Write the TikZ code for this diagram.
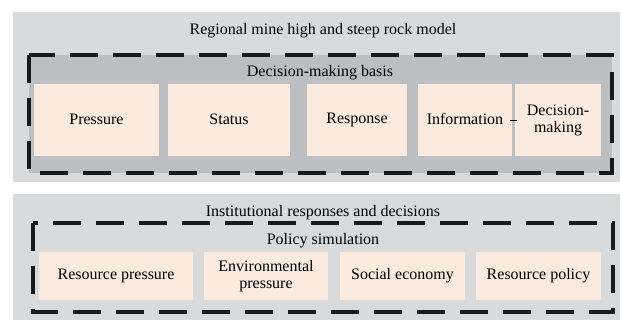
\documentclass[tikz,border=0pt]{standalone}
\usepackage{fontspec}
\setmainfont{Liberation Serif}
\definecolor{panelgray}{HTML}{D9DADC}
\definecolor{basisgray}{HTML}{BDBEC1}
\definecolor{factortan}{HTML}{FBEBDF}
\newcommand\fstrut{\rule[-2pt]{0pt}{12.5pt}}
\begin{document}
\begin{tikzpicture}[x=1pt,y=-1pt,
    every node/.style={font=\fontsize{16}{17}\selectfont},
    frame/.style={draw=black!90,line width=3.2pt,dash pattern=on 28pt off 15pt},
    factor/.style={fill=factortan,inner sep=0pt,align=center},
    heading/.style={inner sep=0pt}]
  \useasboundingbox (0,0) rectangle (622,320);
  % upper panel
  \fill[panelgray] (13,12) rectangle (620,182);
  \node[heading] (model) at (323,31) {\fstrut Regional mine high and steep rock model};
  \fill[basisgray] (29,55) rectangle (612,173);
  \draw[frame] (29,55) rectangle (612,173);
  \node[heading] (basis) at (320,73) {\fstrut Decision-making basis};
  \foreach \cx/\w/\name/\txt in {96.5/125/pres/Pressure, 229/122/stat/Status,
      357/100/resp/Response, 465/94/info/Information,
      558/86/dec/{Decision-\\making}} {
    \node[factor,minimum width=\w pt,minimum height=72pt] (\name) at (\cx,120) {\fstrut\txt\fstrut};
  }
  \draw[line width=0.6pt] ([xshift=-2pt]info.east) -- ([xshift=2pt]dec.west);
  % lower panel
  \fill[panelgray] (13,194) rectangle (620,320);
  \node[heading] (inst) at (323,213) {\fstrut Institutional responses and decisions};
  \draw[frame] (33,223) rectangle (613,312);
  \node[heading] (sim) at (323,241) {\fstrut Policy simulation};
  \foreach \cx/\w/\name/\txt in {116/154/rpres/Resource pressure,
      266/124/epres/{Environmental\\pressure}, 402.5/125/soc/Social economy,
      538.5/125/rpol/Resource policy} {
    \node[factor,minimum width=\w pt,minimum height=48pt] (\name) at (\cx,276) {\fstrut\txt\fstrut};
  }
\end{tikzpicture}
\end{document}
